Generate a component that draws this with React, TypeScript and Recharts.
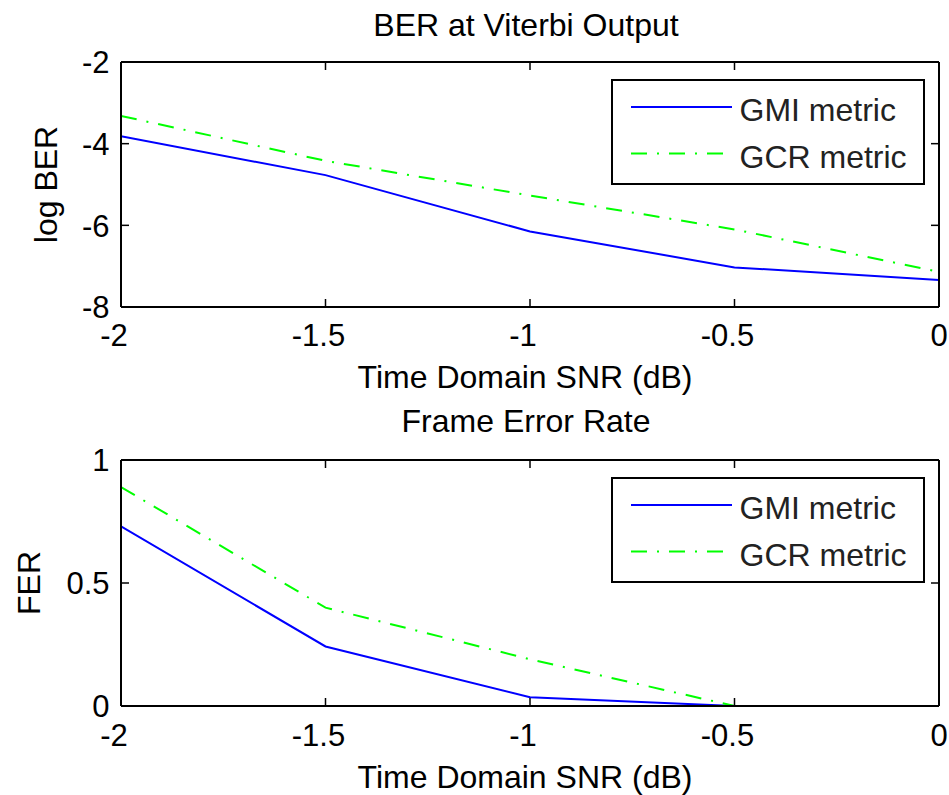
import { LineChart, Line, XAxis, YAxis, Legend } from "recharts";

// SNR grid (dB)
const snr = [-2, -1.5, -1, -0.5, 0];

// top panel: log BER
const gmiBer = [-3.82, -4.77, -6.15, -7.03, -7.34];
const gcrBer = [-3.32, -4.42, -5.27, -6.1, -7.14];

// bottom panel: frame error rate
const gmiFer = [0.73, 0.242, 0.036, 0, 0];
const gcrFer = [0.89, 0.4, 0.19, 0, 0];

const xTicks = [-2, -1.5, -1, -0.5, 0];
const berTicks = [-8, -6, -4, -2];
const ferTicks = [0, 0.5, 1];

const seriesNames = ["GMI metric", "GCR metric"];
const seriesColors = ["#0000ff", "#00ff00"];
const seriesDash = [undefined, "16 10 2 10"];

const FONT = "'Liberation Sans', Arial, Helvetica, sans-serif";
const LEFT = 121;
const RIGHT = 939;
const TICK_LEN = 8;

const berData = snr.map((x, i) => ({ snr: x, gmi: gmiBer[i], gcr: gcrBer[i] }));
const ferData = snr.map((x, i) => ({ snr: x, gmi: gmiFer[i], gcr: gcrFer[i] }));

function XTick(props: any) {
  const { x, payload, top, bottom } = props;
  const v = payload.value;
  return (
    <g>
      <line x1={x} x2={x} y1={bottom} y2={bottom - TICK_LEN} stroke="#000" strokeWidth={1.5} />
      <line x1={x} x2={x} y1={top} y2={top + TICK_LEN} stroke="#000" strokeWidth={1.5} />
      <text
        x={v < 0 ? x - 7 : x}
        y={346}
        textAnchor="middle"
        fontFamily={FONT}
        fontSize={31}
        fill="#000"
      >
        {String(v)}
      </text>
    </g>
  );
}

function YTick(props: any) {
  const { y, payload } = props;
  return (
    <g>
      <line x1={LEFT} x2={LEFT + TICK_LEN} y1={y} y2={y} stroke="#000" strokeWidth={1.5} />
      <line x1={RIGHT} x2={RIGHT - TICK_LEN} y1={y} y2={y} stroke="#000" strokeWidth={1.5} />
      <text x={109.5} y={y + 11.3} textAnchor="end" fontFamily={FONT} fontSize={31} fill="#000">
        {String(payload.value)}
      </text>
    </g>
  );
}

function Texts(props: any) {
  const { title, titleY, ylabel, ylabelX, ylabelY } = props;
  return (
    <g fontFamily={FONT} fill="#000">
      <text x={526} y={titleY} textAnchor="middle" fontSize={32}>
        {title}
      </text>
      <text x={525} y={388} textAnchor="middle" fontSize={32}>
        Time Domain SNR (dB)
      </text>
      <text
        x={ylabelX}
        y={ylabelY}
        textAnchor="middle"
        fontSize={32}
        transform={`rotate(-90, ${ylabelX}, ${ylabelY})`}
      >
        {ylabel}
      </text>
    </g>
  );
}

function LegendBox() {
  const rows = [
    { line: 28, base: 41.5 },
    { line: 74.5, base: 88.5 },
  ];
  return (
    <svg width={314} height={106} style={{ display: "block" }}>
      <rect x={1} y={1} width={312} height={104} fill="#fff" stroke="#000" strokeWidth={2} />
      {seriesNames.map((name, i) => (
        <g key={name}>
          <line
            x1={20}
            x2={121}
            y1={rows[i].line}
            y2={rows[i].line}
            stroke={seriesColors[i]}
            strokeWidth={2}
            strokeDasharray={seriesDash[i]}
          />
          <text x={128.5} y={rows[i].base} fontFamily={FONT} fontSize={32} fill="#222">
            {name}
          </text>
        </g>
      ))}
    </svg>
  );
}

function Panel(props: any) {
  const { data, height, plotTop, plotBottom, yDomain, yTicks, title, titleY, ylabel, ylabelX, legendTop } = props;
  // each of the four axes takes 1px of the margin
  const margin = { top: plotTop - 1, right: 949 - RIGHT - 1, bottom: height - plotBottom - 1, left: LEFT - 1 };
  const ylabelY = (plotTop + plotBottom) / 2;
  return (
    <LineChart width={949} height={height} data={data} margin={margin}>
      {["gmi", "gcr"].map((key, i) => (
        <Line
          key={key}
          type="linear"
          dataKey={key}
          name={seriesNames[i]}
          stroke={seriesColors[i]}
          strokeWidth={2}
          strokeDasharray={seriesDash[i]}
          dot={false}
          activeDot={false}
          isAnimationActive={false}
        />
      ))}
      <XAxis
        dataKey="snr"
        type="number"
        domain={[-2, 0]}
        ticks={xTicks}
        interval={0}
        height={1}
        allowDataOverflow
        axisLine={{ stroke: "#000", strokeWidth: 2 }}
        tickLine={false}
        tick={(p: any) => <XTick {...p} top={plotTop} bottom={plotBottom} />}
        label={
          <Texts
            title={title}
            titleY={titleY}
            ylabel={ylabel}
            ylabelX={ylabelX}
            ylabelY={ylabelY}
          />
        }
      />
      <XAxis
        xAxisId="top"
        orientation="top"
        dataKey="snr"
        type="number"
        domain={[-2, 0]}
        height={1}
        allowDataOverflow
        axisLine={{ stroke: "#000", strokeWidth: 2 }}
        tickLine={false}
        tick={false}
      />
      <YAxis
        type="number"
        domain={yDomain}
        ticks={yTicks}
        interval={0}
        width={1}
        allowDataOverflow
        axisLine={{ stroke: "#000", strokeWidth: 2 }}
        tickLine={false}
        tick={(p: any) => <YTick {...p} />}
      />
      <YAxis
        yAxisId="right"
        orientation="right"
        type="number"
        domain={yDomain}
        width={1}
        allowDataOverflow
        axisLine={{ stroke: "#000", strokeWidth: 2 }}
        tickLine={false}
        tick={false}
      />
      <Legend
        layout="horizontal"
        verticalAlign="middle"
        align="center"
        wrapperStyle={{ position: "absolute", left: 611, top: legendTop, width: 314, height: 106, margin: 0, padding: 0 }}
        content={() => <LegendBox />}
      />
    </LineChart>
  );
}

export default function App() {
  return (
    <div style={{ position: "absolute", left: 0, top: 0, width: 949, height: 795, background: "#fff" }}>
      <div style={{ position: "absolute", left: 0, top: 0 }}>
        <Panel
          data={berData}
          height={400}
          plotTop={62}
          plotBottom={307}
          yDomain={[-8, -2]}
          yTicks={berTicks}
          title="BER at Viterbi Output"
          titleY={36}
          ylabel="log BER"
          ylabelX={57}
          legendTop={79}
        />
      </div>
      <div style={{ position: "absolute", left: 0, top: 400 }}>
        <Panel
          data={ferData}
          height={395}
          plotTop={60}
          plotBottom={306}
          yDomain={[0, 1]}
          yTicks={ferTicks}
          title="Frame Error Rate"
          titleY={32}
          ylabel="FER"
          ylabelX={40}
          legendTop={77}
        />
      </div>
    </div>
  );
}
